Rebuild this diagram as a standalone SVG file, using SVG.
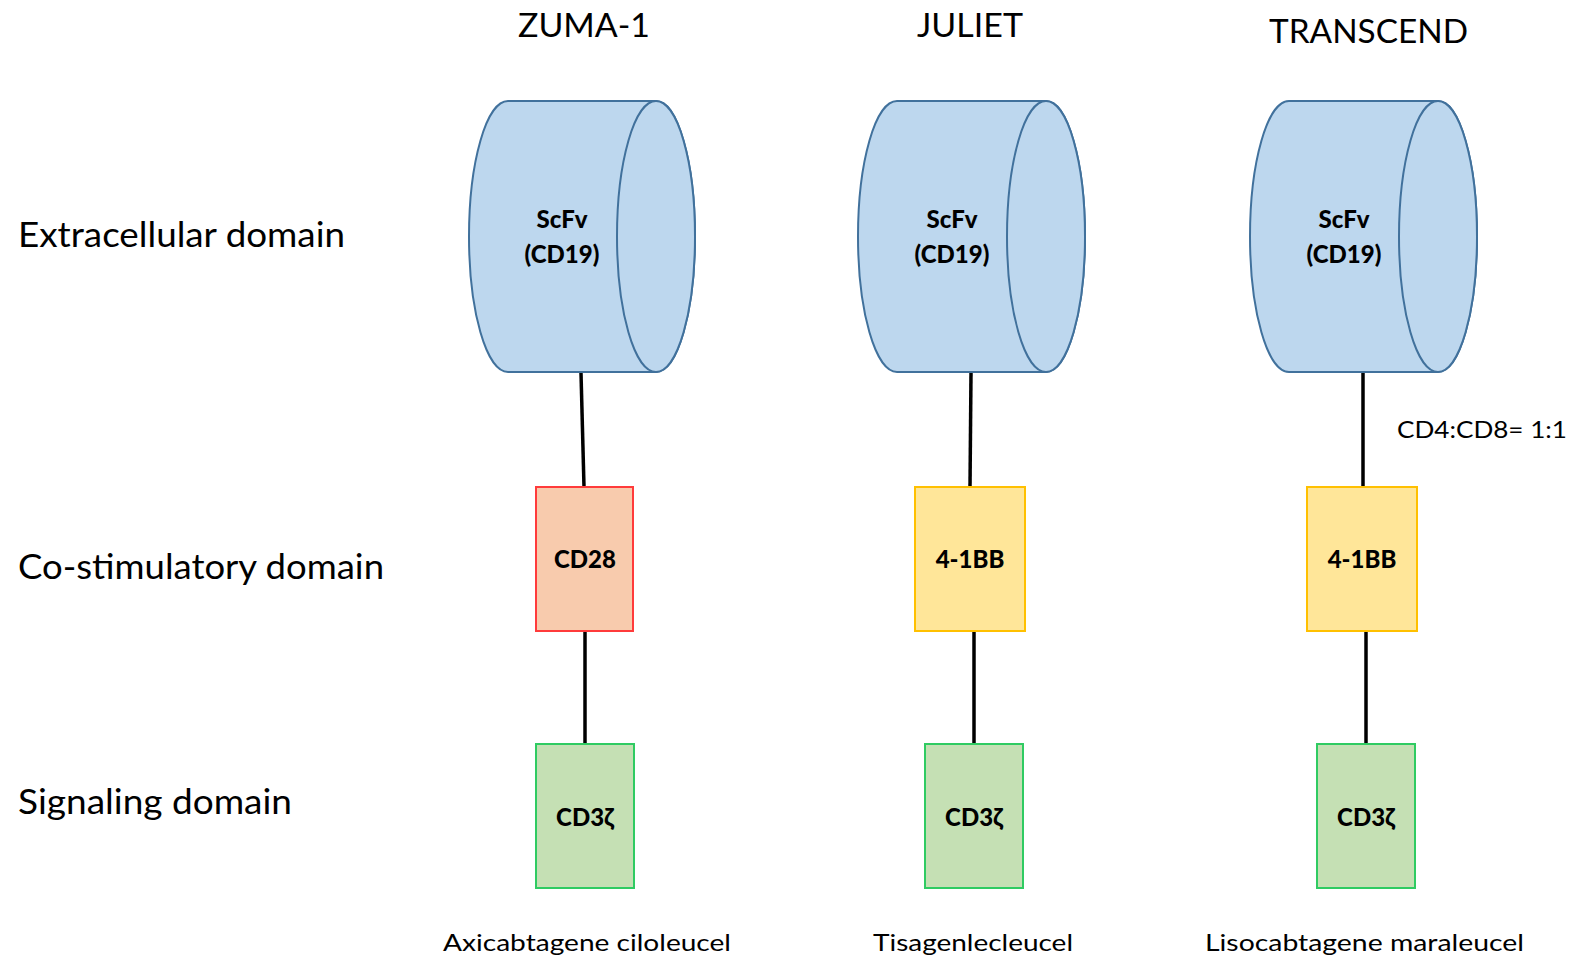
<svg xmlns="http://www.w3.org/2000/svg" width="1575" height="958" viewBox="0 0 1575 958">
<style>
.cyl{fill:#BDD7EE;stroke:#41719C;stroke-width:2}
.title{font-family:Lato,"Open Sans",sans-serif;font-size:33px;fill:#000}
.side{font-family:Lato,"Open Sans",sans-serif;font-size:34px;fill:#000}
.lbl{font-family:Lato,"Open Sans",sans-serif;font-size:24px;font-weight:900;fill:#000;text-anchor:middle}
.name{font-family:Lato,"Open Sans",sans-serif;font-size:23px;fill:#000}
.cd28{fill:#F8CBAD;stroke:#FF3B3B;stroke-width:2}
.bb{fill:#FFE699;stroke:#FFC000;stroke-width:2}
.cd3{fill:#C5E0B4;stroke:#2FCB62;stroke-width:2}
.conn{stroke:#000;stroke-width:3.5;fill:none}
</style>
<rect width="1575" height="958" fill="#fff"/>
<g id="titles">
<text class="title" x="518" y="37" textLength="132" lengthAdjust="spacingAndGlyphs">ZUMA-1</text>
<text class="title" x="917" y="37" textLength="106" lengthAdjust="spacingAndGlyphs">JULIET</text>
<text class="title" x="1269" y="43" textLength="199" lengthAdjust="spacingAndGlyphs">TRANSCEND</text>
</g>
<g id="side-labels">
<text class="side" x="18" y="247" textLength="327" lengthAdjust="spacingAndGlyphs">Extracellular domain</text>
<text class="side" x="18" y="579" textLength="366" lengthAdjust="spacingAndGlyphs">Co-stimulatory domain</text>
<text class="side" x="18" y="814" textLength="274" lengthAdjust="spacingAndGlyphs">Signaling domain</text>
</g>
<g id="connectors">
<line class="conn" x1="581" y1="373" x2="584" y2="487"/>
<line class="conn" x1="585" y1="631" x2="585" y2="744"/>
<line class="conn" x1="971" y1="373" x2="970" y2="487"/>
<line class="conn" x1="974" y1="631" x2="974" y2="744"/>
<line class="conn" x1="1363" y1="373" x2="1363" y2="487"/>
<line class="conn" x1="1366" y1="631" x2="1366" y2="744"/>
</g>
<g id="scfv-zuma">
<path class="cyl" d="M508,101 L656,101 A39,135.5 0 0 1 656,372 L508,372 A39,135.5 0 0 1 508,101 Z"/>
<ellipse class="cyl" cx="656" cy="236.5" rx="39" ry="135.5"/>
<text class="lbl" x="562" y="228">ScFv</text>
<text class="lbl" x="562" y="263">(CD19)</text>
</g>
<g id="scfv-juliet">
<path class="cyl" d="M897,101 L1046,101 A39,135.5 0 0 1 1046,372 L897,372 A39,135.5 0 0 1 897,101 Z"/>
<ellipse class="cyl" cx="1046" cy="236.5" rx="39" ry="135.5"/>
<text class="lbl" x="952" y="228">ScFv</text>
<text class="lbl" x="952" y="263">(CD19)</text>
</g>
<g id="scfv-transcend">
<path class="cyl" d="M1289,101 L1438,101 A39,135.5 0 0 1 1438,372 L1289,372 A39,135.5 0 0 1 1289,101 Z"/>
<ellipse class="cyl" cx="1438" cy="236.5" rx="39" ry="135.5"/>
<text class="lbl" x="1344" y="228">ScFv</text>
<text class="lbl" x="1344" y="263">(CD19)</text>
</g>
<g id="cd28-zuma">
<rect class="cd28" x="536" y="487" width="97" height="144"/>
<text class="lbl" x="585" y="568">CD28</text>
</g>
<g id="bb-juliet">
<rect class="bb" x="915" y="487" width="110" height="144"/>
<text class="lbl" x="970" y="568">4-1BB</text>
</g>
<g id="bb-transcend">
<rect class="bb" x="1307" y="487" width="110" height="144"/>
<text class="lbl" x="1362" y="568">4-1BB</text>
</g>
<g id="cd3-zuma">
<rect class="cd3" x="536" y="744" width="98" height="144"/>
<text class="lbl" x="585" y="826">CD3ζ</text>
</g>
<g id="cd3-juliet">
<rect class="cd3" x="925" y="744" width="98" height="144"/>
<text class="lbl" x="974" y="826">CD3ζ</text>
</g>
<g id="cd3-transcend">
<rect class="cd3" x="1317" y="744" width="98" height="144"/>
<text class="lbl" x="1366" y="826">CD3ζ</text>
</g>
<g id="ratio">
<text class="name" x="1397" y="438" textLength="170" lengthAdjust="spacingAndGlyphs">CD4:CD8= 1:1</text>
</g>
<g id="product-names">
<text class="name" x="443" y="951" textLength="288" lengthAdjust="spacingAndGlyphs">Axicabtagene ciloleucel</text>
<text class="name" x="873" y="951" textLength="200" lengthAdjust="spacingAndGlyphs">Tisagenlecleucel</text>
<text class="name" x="1205" y="951" textLength="319" lengthAdjust="spacingAndGlyphs">Lisocabtagene maraleucel</text>
</g>
</svg>
